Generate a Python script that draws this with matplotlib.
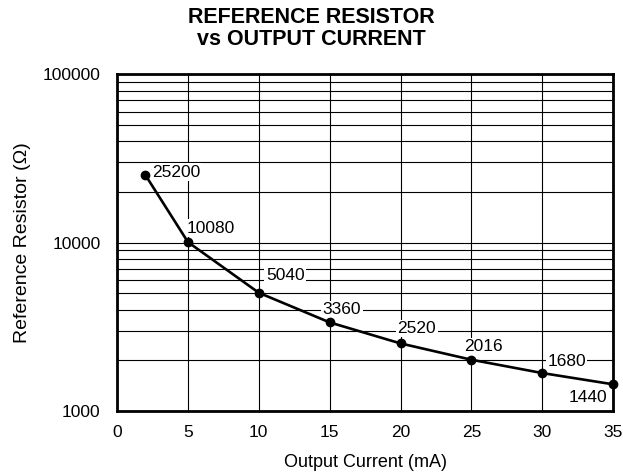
import matplotlib.pyplot as plt
from matplotlib.ticker import LogLocator, FixedLocator, NullFormatter

plt.rcParams['font.family'] = ['Liberation Sans', 'DejaVu Sans']

# Data
current_ma = [2, 5, 10, 15, 20, 25, 30, 35]
resistor_ohm = [25200, 10080, 5040, 3360, 2520, 2016, 1680, 1440]
point_labels = ['25200', '10080', '5040', '3360', '2520', '2016', '1680', '1440']

# label offsets in pixels and horizontal alignment
label_offsets = [(7, 3), (-1, 14), (7, 17), (-7, 13), (-3, 15), (-7, 13), (5, 12), (-6, -13)]
label_ha = ['left', 'left', 'left', 'left', 'left', 'left', 'left', 'right']

fig = plt.figure(figsize=(6.23, 4.74), dpi=100)
ax = fig.add_axes([0.188, 0.133, 0.796, 0.71])

ax.set_yscale('log')
ax.set_xlim(0, 35)
ax.set_ylim(1000, 100000)

ax.plot(current_ma, resistor_ohm, color='black', lw=1.9, marker='o', ms=6, zorder=4, clip_on=False)

for x, y, lab, off, ha in zip(current_ma, resistor_ohm, point_labels, label_offsets, label_ha):
    ax.annotate(lab, (x, y), xytext=off, textcoords='offset pixels', ha=ha, va='center',
                fontsize=12.5, zorder=3,
                bbox=dict(facecolor='white', edgecolor='none', pad=1.0))

ax.xaxis.set_major_locator(FixedLocator([0, 5, 10, 15, 20, 25, 30, 35]))
ax.yaxis.set_major_locator(FixedLocator([1000, 10000, 100000]))
ax.yaxis.set_minor_locator(LogLocator(base=10, subs=range(2, 10)))
ax.yaxis.set_minor_formatter(NullFormatter())
ax.set_yticklabels(['1000', '10000', '100000'])

ax.grid(True, which='both', axis='y', color='black', lw=0.8)
ax.grid(True, which='major', axis='x', color='black', lw=0.8)
ax.tick_params(which='both', length=0, labelsize=12.5)
ax.tick_params(axis='x', pad=10)
ax.tick_params(axis='y', pad=12)

for s in ax.spines.values():
    s.set_linewidth(2)
    s.set_zorder(5)

ax.set_xlabel('Output Current (mA)', fontsize=13, labelpad=10)
ax.set_ylabel('Reference Resistor (Ω)', fontsize=14, labelpad=8)
fig.text(0.5, 0.985, 'REFERENCE RESISTOR\nvs OUTPUT CURRENT', ha='center', va='top',
         fontsize=15.5, fontweight='bold', linespacing=1.05)

fig.savefig('out.png', dpi=100)
